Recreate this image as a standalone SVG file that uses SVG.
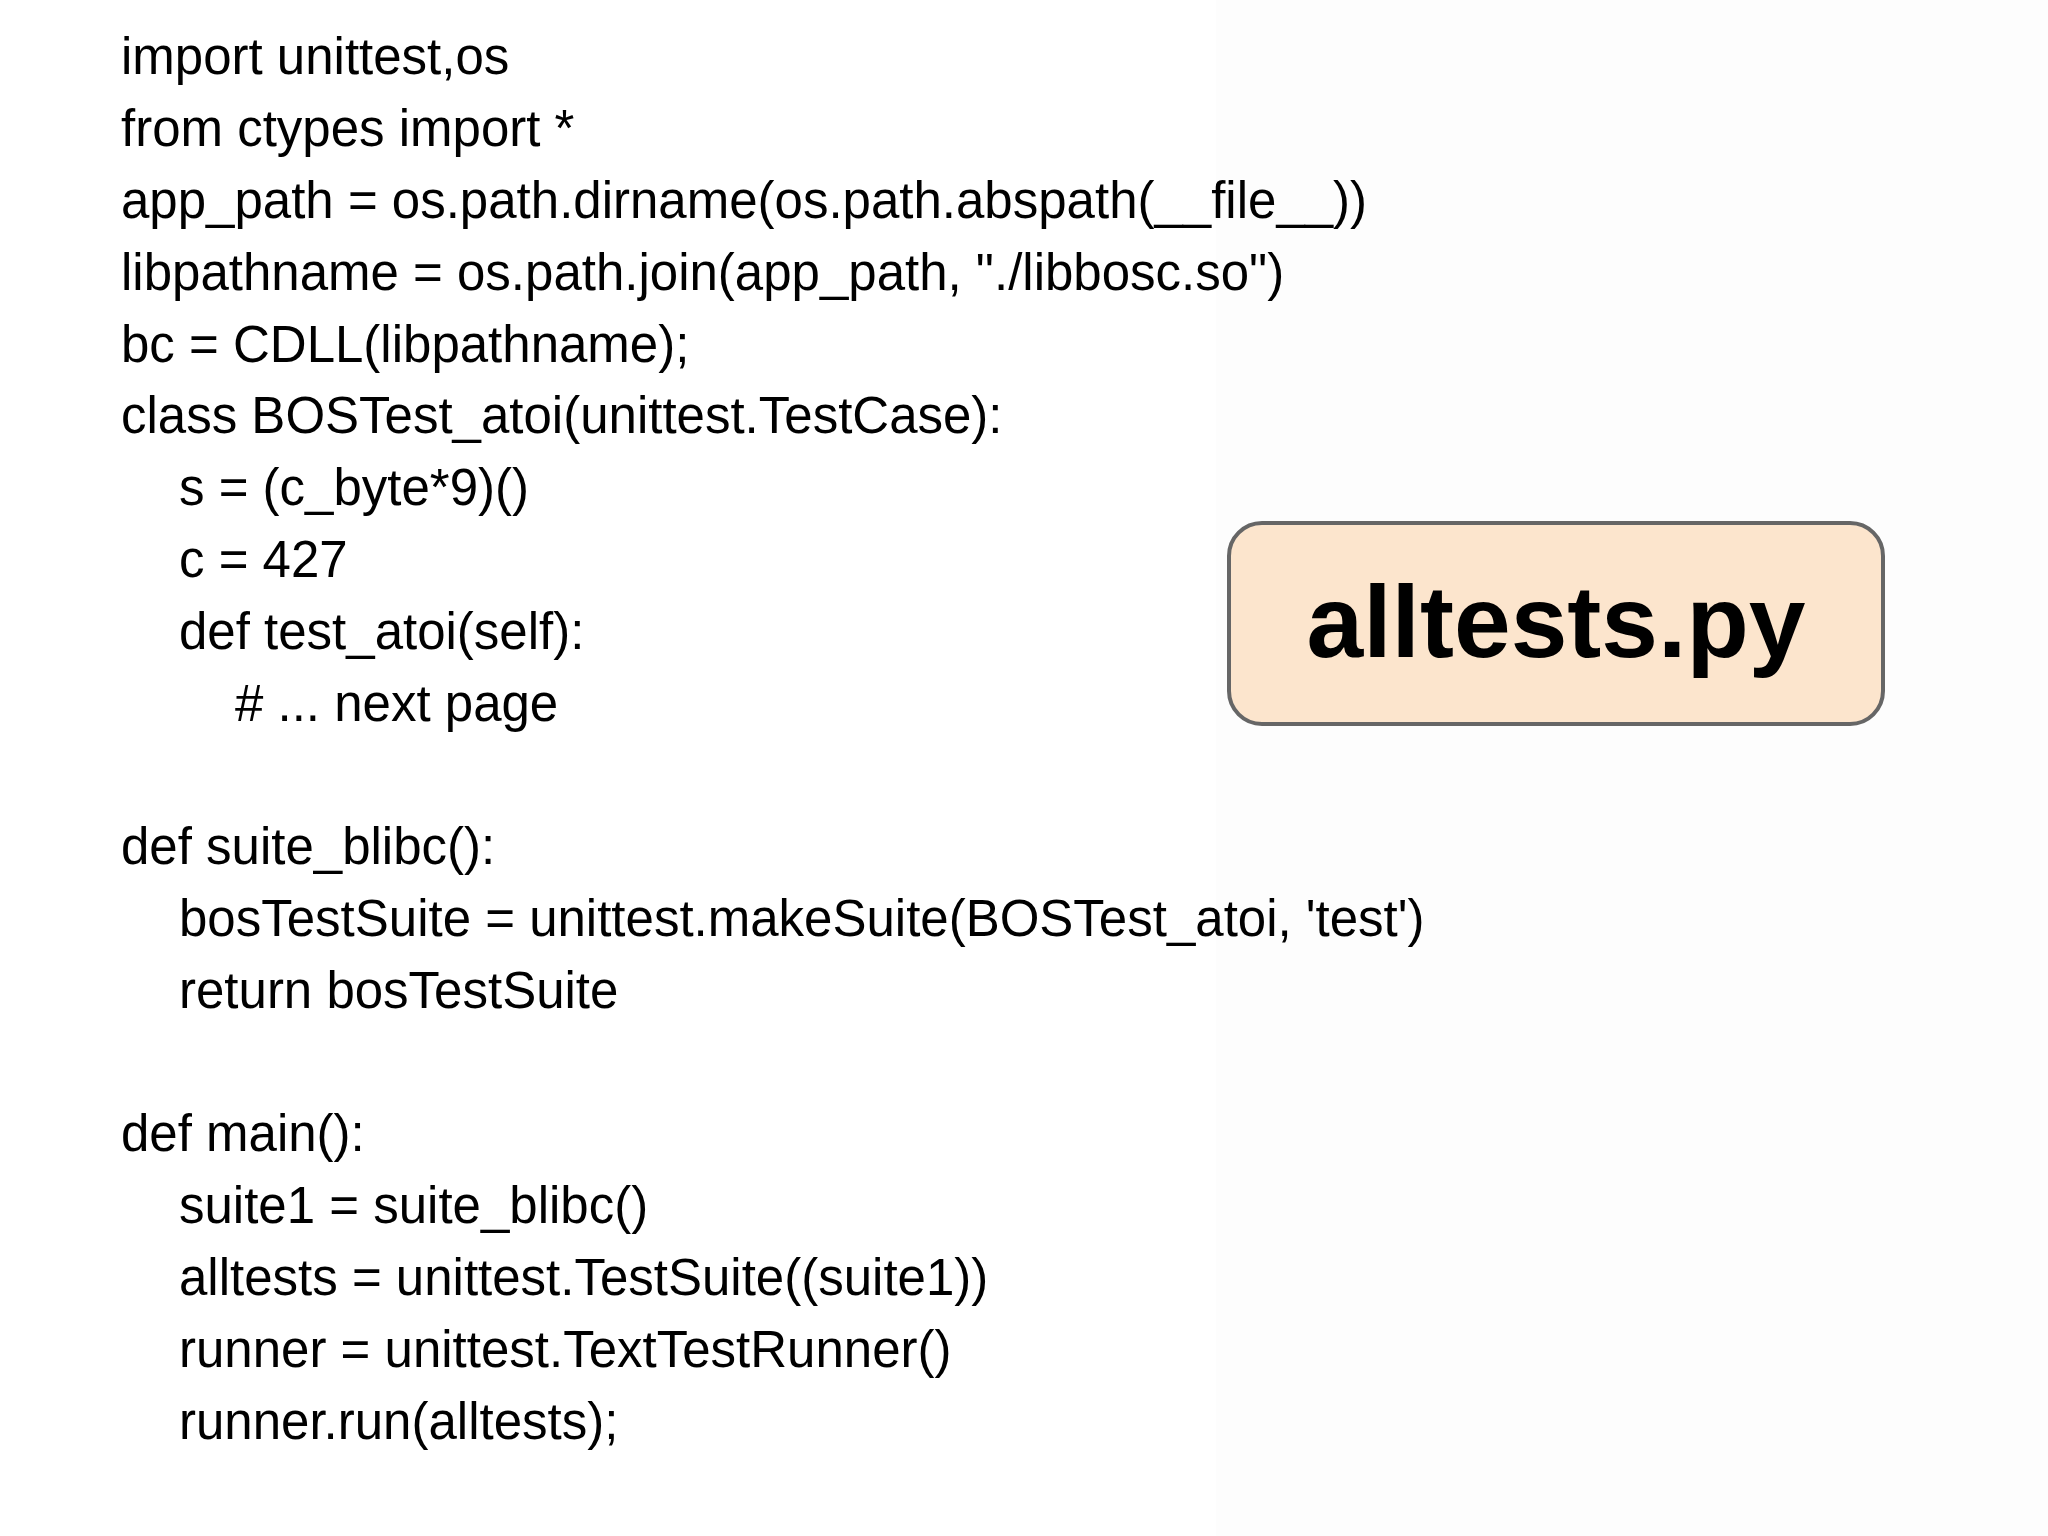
<svg xmlns="http://www.w3.org/2000/svg" width="2048" height="1536" viewBox="0 0 2048 1536">
<style>
.c{font-family:"Liberation Sans",Arial,sans-serif;font-size:51px;fill:#000}
</style>
<rect width="2048" height="1536" fill="#ffffff"/>
<rect x="1216" y="0" width="832" height="1536" fill="#fdfdfd"/>
<g id="code" class="c">
<text x="121" y="74">import unittest,os</text>
<text x="121" y="146">from ctypes import *</text>
<text x="121" y="218">app_path = os.path.dirname(os.path.abspath(__file__))</text>
<text x="121" y="290">libpathname = os.path.join(app_path, "./libbosc.so")</text>
<text x="121" y="362">bc = CDLL(libpathname);</text>
<text x="121" y="433">class BOSTest_atoi(unittest.TestCase):</text>
<text x="179" y="505">s = (c_byte*9)()</text>
<text x="179" y="577">c = 427</text>
<text x="179" y="649">def test_atoi(self):</text>
<text x="235" y="721">#  ... next page</text>
<text x="121" y="864">def suite_blibc():</text>
<text x="179" y="936">bosTestSuite = unittest.makeSuite(BOSTest_atoi, 'test')</text>
<text x="179" y="1008">return bosTestSuite</text>
<text x="121" y="1151">def main():</text>
<text x="179" y="1223">suite1 = suite_blibc()</text>
<text x="179" y="1295">alltests = unittest.TestSuite((suite1))</text>
<text x="179" y="1367">runner = unittest.TextTestRunner()</text>
<text x="179" y="1439">runner.run(alltests);</text>
</g>
<g id="title">
<rect x="1229" y="523" width="654" height="201" rx="33" fill="#fce5cd" stroke="#666666" stroke-width="4"/>
<text x="1556" y="657" text-anchor="middle" font-family="'Liberation Sans',Arial,sans-serif" font-weight="bold" font-size="102">alltests.py</text>
</g>
</svg>
